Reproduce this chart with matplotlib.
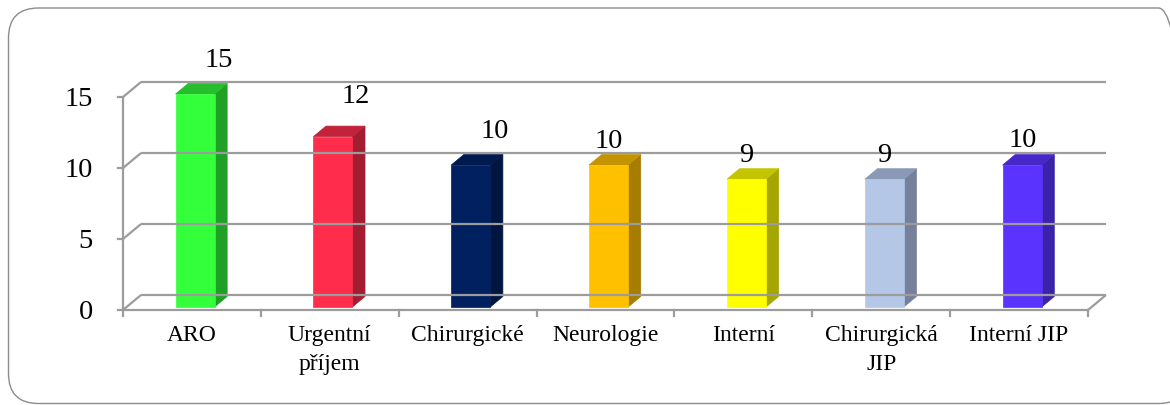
import matplotlib
matplotlib.use("Agg")
import matplotlib.pyplot as plt
from matplotlib.patches import Polygon, FancyBboxPatch

# departments and counts
categories = ["ARO", "Urgentní\npříjem", "Chirurgické", "Neurologie",
              "Interní", "Chirurgická\nJIP", "Interní JIP"]
values = [15, 12, 10, 10, 9, 9, 10]
yticks = [0, 5, 10, 15]

# front / side / top colours for each bar
front_colors = ["#33FF3A", "#FF2D4B", "#002060", "#FFC000",
                "#FFFF00", "#B4C7E7", "#5B33FF"]
side_colors = ["#21A026", "#A31D31", "#00153F", "#A67D00",
               "#A6A600", "#75819A", "#3B22A8"]
top_colors = ["#27BE2D", "#C2223A", "#001A4D", "#C49400",
              "#C4C400", "#8A9AB6", "#4628C8"]

# label nudges (category units, value units)
label_dx = [0.195, 0.19, 0.20, 0.025, 0.02, 0.02, 0.03]
label_dy = [2.11, 2.58, 2.11, 1.41, 1.42, 1.42, 1.48]

W, H = 1170, 405
SERIF = ["Liberation Serif", "DejaVu Serif"]
GRID = "#9C9C9C"

fig = plt.figure(figsize=(W / 100, H / 100), dpi=100)
fig.patch.set_facecolor("white")

# front plane of the plot, value 0..15
left_px, right_px, floor_px, top_px = 123, 1088, 310, 97
ax = fig.add_axes([left_px / W, (H - floor_px) / H,
                   (right_px - left_px) / W, (floor_px - top_px) / H])
ax.set_xlim(0, len(values))
ax.set_ylim(0, 15)
ax.axis("off")

# oblique depth offset for one full unit of depth
px_x = (right_px - left_px) / len(values)
px_y = (floor_px - top_px) / 15
DX = 18 / px_x
DY = 15 / px_y


def proj(x, y, d):
    return (x + d * DX, y + d * DY)


def line3(p, q, **kw):
    (x0, y0), (x1, y1) = proj(*p), proj(*q)
    ax.plot([x0, x1], [y0, y1], color=GRID, lw=1.6, clip_on=False,
            solid_capstyle="butt", **kw)


n = len(values)
# back wall gridlines and left wall diagonals
for v in yticks:
    line3((0, v, 1), (n, v, 1))
    line3((0, v, 0), (0, v, 1))
# floor edges and front axes
line3((n, 0, 0), (n, 0, 1))
line3((0, 0, 0), (n, 0, 0))
line3((0, 0, 0), (0, 15, 0))
for v in yticks:
    ax.plot([-5 / px_x, 0], [v, v], color=GRID, lw=1.6, clip_on=False)
    ax.text(-30 / px_x, v - 9.3 / px_y, str(v), ha="right", va="baseline",
            fontsize=20.5, family=SERIF)
for i in range(n + 1):
    ax.plot([i, i], [0, -6 / px_y], color=GRID, lw=1.6, clip_on=False)

# bars
bw = 0.283
d0, d1 = 0.2, 0.9
for i, v in enumerate(values):
    x0 = i + 0.355
    x1 = x0 + bw
    front = [proj(x0, 0, d0), proj(x1, 0, d0), proj(x1, v, d0), proj(x0, v, d0)]
    side = [proj(x1, 0, d0), proj(x1, 0, d1), proj(x1, v, d1), proj(x1, v, d0)]
    top = [proj(x0, v, d0), proj(x1, v, d0), proj(x1, v, d1), proj(x0, v, d1)]
    for pts, c in ((side, side_colors[i]), (top, top_colors[i]),
                   (front, front_colors[i])):
        ax.add_patch(Polygon(pts, closed=True, facecolor=c, edgecolor=c,
                             lw=0.5, clip_on=False))
    ax.text(i + 0.5 + label_dx[i], v + label_dy[i], str(v), ha="center",
            va="baseline", fontsize=20.5, family=SERIF)

# category labels
for i, name in enumerate(categories):
    ax.text(i + 0.5, -15 / px_y, name, ha="center", va="top",
            fontsize=17, family=SERIF, linespacing=1.5)

# rounded frame
frame = FancyBboxPatch((8.5, 1.5), 1180, 395.5,
                       boxstyle="round,pad=0,rounding_size=30",
                       transform=None, facecolor="none",
                       edgecolor="#8C8C8C", lw=1.0)
fig.add_artist(frame)

fig.savefig("out.png", dpi=100, facecolor="white")
